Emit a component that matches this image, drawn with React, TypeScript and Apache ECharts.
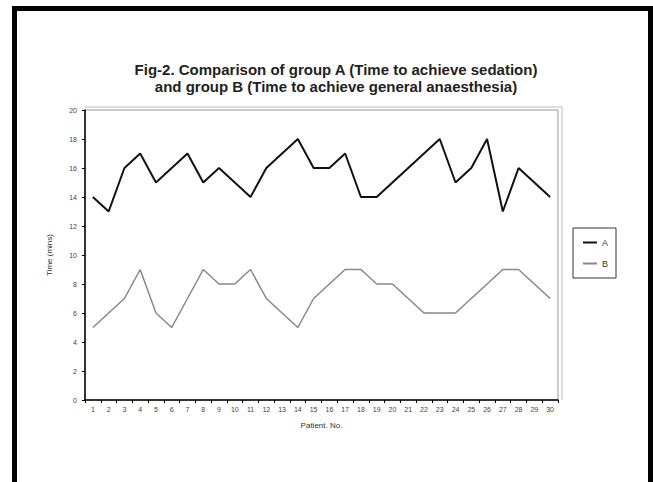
import React, { useEffect, useRef } from "react";
import * as echarts from "echarts";

const patients: string[] = Array.from({ length: 30 }, (_, i) => String(i + 1));
const groupA: number[] = [14, 13, 16, 17, 15, 16, 17, 15, 16, 15, 14, 16, 17, 18, 16, 16, 17, 14, 14, 15, 16, 17, 18, 15, 16, 18, 13, 16, 15, 14];
const groupB: number[] = [5, 6, 7, 9, 6, 5, 7, 9, 8, 8, 9, 7, 6, 5, 7, 8, 9, 9, 8, 8, 7, 6, 6, 6, 7, 8, 9, 9, 8, 7];
const titleLines: string[] = [
  "Fig-2. Comparison of group A (Time to achieve sedation)",
  "and group B (Time to achieve general anaesthesia)",
];

export default function App() {
  const ref = useRef<HTMLDivElement>(null);
  useEffect(() => {
    if (!ref.current) return;
    const chart = echarts.init(ref.current, null, { renderer: "svg" });
    chart.setOption({
      animation: false,
      backgroundColor: "#fff",
      title: {
        text: titleLines.join("\n"),
        left: 331,
        textAlign: "center",
        top: 56,
        textStyle: {
          fontFamily: "Liberation Sans, Arial, sans-serif",
          fontSize: 15,
          fontWeight: "bold",
          lineHeight: 17,
          color: "#222",
        },
      },
      graphic: [
        {
          type: "rect",
          shape: { x: 14.5, y: 8.5, width: 636, height: 520 },
          style: { fill: "none", stroke: "#000", lineWidth: 5 },
          silent: true,
        },
        {
          type: "polyline",
          shape: { points: [[85, 107], [562, 107], [562, 400]] },
          style: { fill: "none", stroke: "#bbb", lineWidth: 1 },
          silent: true,
        },
      ],
      legend: {
        orient: "vertical",
        left: 573,
        top: 228,
        padding: [10, 8, 10, 10],
        itemGap: 12,
        itemWidth: 14,
        itemHeight: 2,
        icon: "rect",
        borderColor: "#333",
        borderWidth: 1,
        textStyle: { fontSize: 9, color: "#333", fontFamily: "Liberation Sans, Arial, sans-serif" },
        data: ["A", "B"],
      },
      grid: {
        left: 85,
        right: 95,
        top: 110,
        bottom: 82,
        show: true,
        borderColor: "#999",
        borderWidth: 1,
      },
      xAxis: {
        type: "category",
        data: patients,
        boundaryGap: true,
        name: "Patient. No.",
        nameLocation: "middle",
        nameGap: 21,
        nameTextStyle: { fontSize: 8, color: "#333", fontFamily: "Liberation Sans, Arial, sans-serif" },
        axisLine: { lineStyle: { color: "#000", width: 1.5 } },
        axisTick: { show: true, alignWithLabel: false, length: 3, lineStyle: { color: "#000" } },
        axisLabel: { fontSize: 7, color: "#444", interval: 0, margin: 6, fontFamily: "Liberation Sans, Arial, sans-serif" },
        splitLine: { show: false },
      },
      yAxis: {
        type: "value",
        min: 0,
        max: 20,
        interval: 2,
        name: "Time (mins)",
        nameLocation: "middle",
        nameGap: 32,
        nameRotate: 90,
        nameTextStyle: { fontSize: 8, color: "#333", fontFamily: "Liberation Sans, Arial, sans-serif" },
        axisLine: { show: true, lineStyle: { color: "#000", width: 1.5 } },
        axisTick: { show: true, length: 3, lineStyle: { color: "#000" } },
        axisLabel: { fontSize: 7, color: "#444", margin: 8, fontFamily: "Liberation Sans, Arial, sans-serif" },
        splitLine: { show: false },
      },
      series: [
        {
          name: "A",
          type: "line",
          data: groupA,
          symbol: "none",
          lineStyle: { color: "#111", width: 2 },
          itemStyle: { color: "#111" },
        },
        {
          name: "B",
          type: "line",
          data: groupB,
          symbol: "none",
          lineStyle: { color: "#888", width: 1.5 },
          itemStyle: { color: "#888" },
        },
      ],
    });
    return () => chart.dispose();
  }, []);
  return (
    <div
      ref={ref}
      style={{ position: "fixed", left: 0, top: 0, width: 653, height: 482 }}
    />
  );
}
